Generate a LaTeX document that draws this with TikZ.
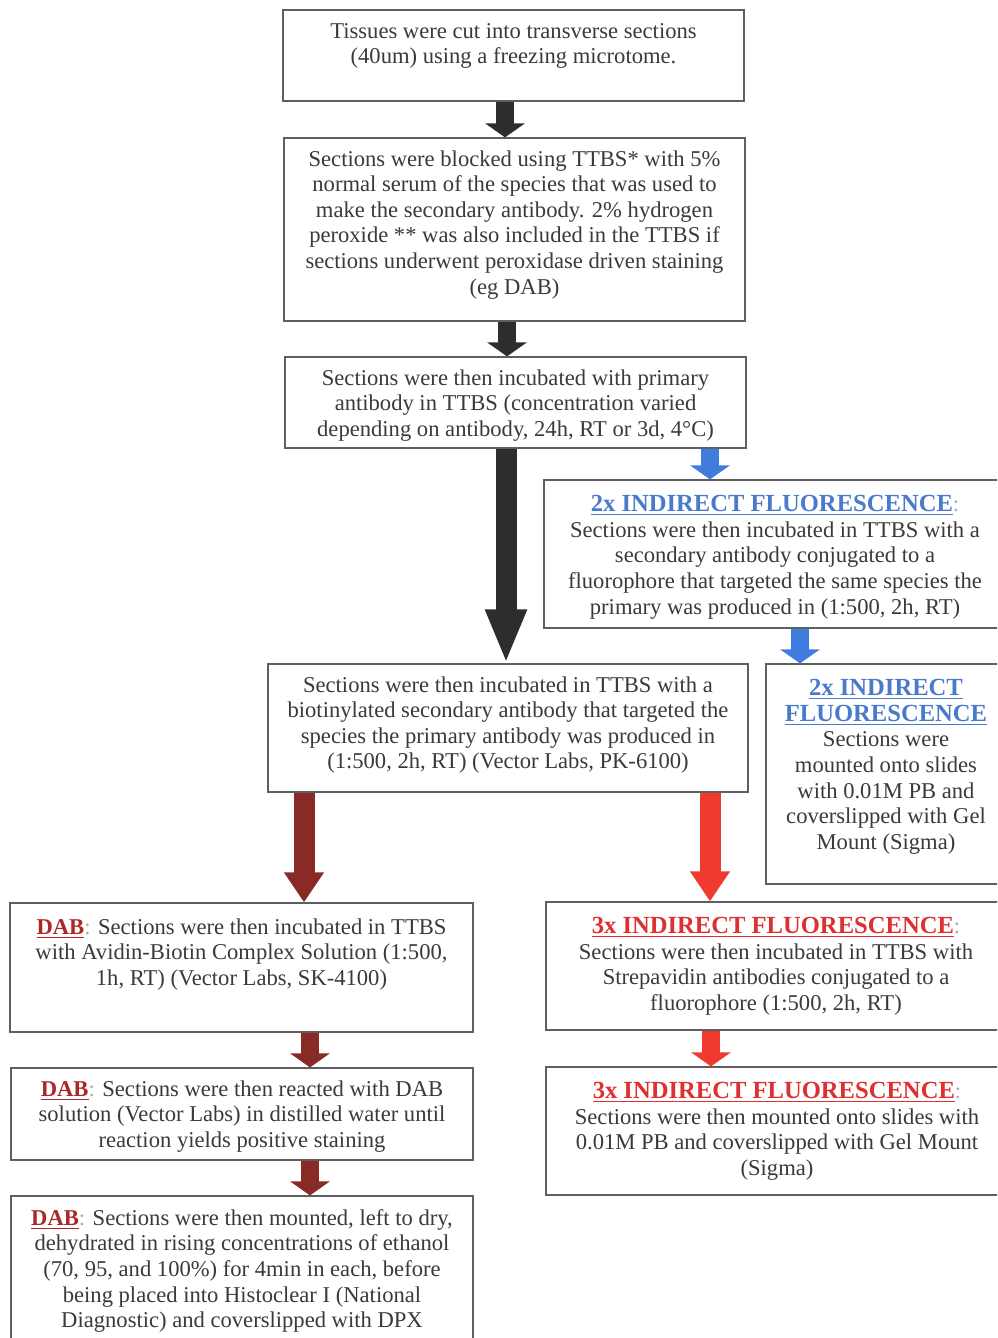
\documentclass[tikz,border=0pt]{standalone}
\usepackage{fontspec}
\setmainfont{Liberation Serif}
\usetikzlibrary{arrows.meta,fit}
\definecolor{txtc}{RGB}{58,58,58}
\definecolor{boxc}{RGB}{95,95,95}
\definecolor{arrk}{RGB}{45,45,45}
\definecolor{arrb}{RGB}{64,124,222}
\definecolor{arrd}{RGB}{138,42,38}
\definecolor{arrr}{RGB}{240,58,48}
\definecolor{headb}{RGB}{74,122,204}
\definecolor{headr}{RGB}{222,48,48}
\definecolor{headd}{RGB}{170,40,40}
\definecolor{colc}{RGB}{170,170,170}
\newcommand{\bhead}[1]{{\fontsize{12.3}{12.8}\selectfont\bfseries\color{headb}\underline{#1}}}
\newcommand{\rhead}[1]{{\fontsize{12.3}{12.8}\selectfont\bfseries\color{headr}\underline{#1}}}
\newcommand{\dhead}[1]{{\bfseries\color{headd}\underline{#1}}}
\newcommand{\gcol}{{\color{colc}:}}
\tikzset{
  box/.style={draw=boxc, line width=0.6pt, inner sep=0pt},
  txt/.style={anchor=north, align=center, inner sep=0pt, text=txtc,
    font=\fontsize{11.3}{12.8}\selectfont, execute at begin node=\strut},
  akblack/.style={draw=arrk},
  akblue/.style={draw=arrb},
  akdark/.style={draw=arrd},
  akred/.style={draw=arrr},
  shortarr/.style={line width=9pt, -{Triangle[width=19.5pt,length=7pt]}},
  midarr/.style={line width=10.5pt, -{Triangle[width=19pt,length=15pt]}},
  longarr/.style={line width=10.5pt, -{Triangle[width=19pt,length=27pt]}}
}
\begin{document}
\begin{tikzpicture}[x=0.5pt,y=-0.5pt]
\useasboundingbox (0,0) rectangle (997,1338);
\clip (0,0) rectangle (997,1338);
\fill[white] (0,0) rectangle (997,1338);
% boxes
\node[box,fit={(283,10)(744,101)}] (b1) {};
\node[box,fit={(284,138)(745,321)}] (b2) {};
\node[box,fit={(285,357)(746,448)}] (b3) {};
\node[box,fit={(544,480)(1006,628)}] (b4) {};
\node[box,fit={(268,664)(748,792)}] (b5) {};
\node[box,fit={(766,664)(1006,884)}] (b6) {};
\node[box,fit={(10,903)(473,1032)}] (b7) {};
\node[box,fit={(546,902)(1006,1030)}] (b8) {};
\node[box,fit={(11,1068)(473,1160)}] (b9) {};
\node[box,fit={(546,1067)(1006,1195)}] (b10) {};
\node[box,fit={(11,1196)(473,1350)}] (b11) {};
% texts
\node[txt] (t1) at (513.5,23) {Tissues were cut into transverse sections\\(40um) using a freezing microtome.};
\node[txt] (t2) at (514.5,150) {Sections were blocked using TTBS* with 5\%\\normal serum of the species that was used to\\make the secondary antibody. 2\% hydrogen\\peroxide ** was also included in the TTBS if\\sections underwent peroxidase driven staining\\(eg DAB)};
\node[txt] (t3) at (515.5,369) {Sections were then incubated with primary\\antibody in TTBS (concentration varied\\depending on antibody, 24h, RT or 3d, 4°C)};
\node[txt] (t4) at (775,495) {\bhead{2x INDIRECT FLUORESCENCE}\gcol\\Sections were then incubated in TTBS with a\\secondary antibody conjugated to a\\fluorophore that targeted the same species the\\primary was produced in (1:500, 2h, RT)};
\node[txt] (t5) at (508,676) {Sections were then incubated in TTBS with a\\biotinylated secondary antibody that targeted the\\species the primary antibody was produced in\\(1:500, 2h, RT) (Vector Labs, PK-6100)};
\node[txt] (t6) at (886,679) {\bhead{2x INDIRECT}\\\bhead{FLUORESCENCE}\\Sections were\\mounted onto slides\\with 0.01M PB and\\coverslipped with Gel\\Mount (Sigma)};
\node[txt] (t7) at (241.5,918) {\dhead{DAB}\gcol{} Sections were then incubated in TTBS\\with Avidin-Biotin Complex Solution (1:500,\\1h, RT) (Vector Labs, SK-4100)};
\node[txt] (t8) at (776,917) {\rhead{3x INDIRECT FLUORESCENCE}\gcol\\Sections were then incubated in TTBS with\\Strepavidin antibodies conjugated to a\\fluorophore (1:500, 2h, RT)};
\node[txt] (t9) at (242,1080) {\dhead{DAB}\gcol{} Sections were then reacted with DAB\\solution (Vector Labs) in distilled water until\\reaction yields positive staining};
\node[txt] (t10) at (777,1082) {\rhead{3x INDIRECT FLUORESCENCE}\gcol\\Sections were then mounted onto slides with\\0.01M PB and coverslipped with Gel Mount\\(Sigma)};
\node[txt] (t11) at (242,1209) {\dhead{DAB}\gcol{} Sections were then mounted, left to dry,\\dehydrated in rising concentrations of ethanol\\(70, 95, and 100\%) for 4min in each, before\\being placed into Histoclear I (National\\Diagnostic) and coverslipped with DPX};
% arrow x positions
\coordinate (xa1) at (505,0);
\coordinate (xa2) at (507,0);
\coordinate (xa3) at (506,0);
\coordinate (xa4) at (710,0);
\coordinate (xa5) at (800,0);
\coordinate (xa6) at (304,0);
\coordinate (xa7) at (710,0);
\coordinate (xa8) at (310,0);
\coordinate (xa9) at (711,0);
\coordinate (xa10) at (310,0);
% arrows
\draw[akblack,shortarr] (b1.south -| xa1) -- (b2.north -| xa1);
\draw[akblack,shortarr] (b2.south -| xa2) -- (b3.north -| xa2);
\draw[akblack,longarr] (b3.south -| xa3) -- (b5.north -| xa3);
\draw[akblue,shortarr] (b3.south -| xa4) -- (b4.north -| xa4);
\draw[akblue,shortarr] (b4.south -| xa5) -- (b6.north -| xa5);
\draw[akdark,midarr] (b5.south -| xa6) -- (b7.north -| xa6);
\draw[akred,midarr] (b5.south -| xa7) -- (b8.north -| xa7);
\draw[akdark,shortarr] (b7.south -| xa8) -- (b9.north -| xa8);
\draw[akred,shortarr] (b8.south -| xa9) -- (b10.north -| xa9);
\draw[akdark,shortarr] (b9.south -| xa10) -- (b11.north -| xa10);
\end{tikzpicture}
\end{document}
